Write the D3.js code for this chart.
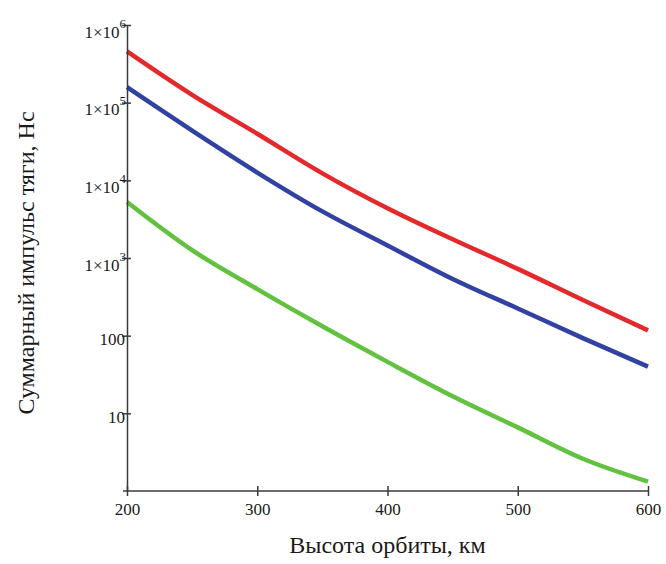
<!DOCTYPE html>
<html>
<head>
<meta charset="utf-8">
<script src="https://cdn.jsdelivr.net/npm/d3@7"></script>
<style>
    body { margin: 0; background: #fff; }
    svg { display: block; }
    text { font-family: "Liberation Serif", "DejaVu Serif", serif; fill: #1a1a1a; }
    .axis path, .axis line { stroke: #3a3a3a; stroke-width: 1.5; }
    .curve { fill: none; stroke-width: 4.5; stroke-linejoin: round; }
</style>
</head>
<body>
<svg width="666" height="564"></svg>
<script>
// orbit altitude, km
var altitudes = [200, 250, 300, 350, 400, 450, 500, 550, 600];
// total thrust impulse, N*s
var redValues = [457000, 126000, 39800, 12300, 4370, 1740, 724, 288, 117];
var blueValues = [158000, 43600, 12600, 3980, 1450, 537, 224, 93, 40];
var greenValues = [5250, 1260, 398, 132, 46, 16.6, 6.6, 2.6, 1.32];

var xTicks = [200, 300, 400, 500, 600];
var yTicks = [10, 100, 1e3, 1e4, 1e5, 1e6];
var xTitle = "Высота орбиты, км";
var yTitle = "Суммарный импульс тяги, Нс";

var series = [
    {name: "red", color: "#e3292b", values: redValues},
    {name: "blue", color: "#3142a3", values: blueValues},
    {name: "green", color: "#62c240", values: greenValues}
];

var margin = {top: 25, left: 127, bottom: 73, right: 18}; // px
var svg = d3.select("svg");
var width = +svg.attr("width") - margin.left - margin.right;
var height = +svg.attr("height") - margin.top - margin.bottom;

var x = d3.scaleLinear().domain([200, 600]).range([0, width]);
var y = d3.scaleLog().domain([1, 1e6]).range([height, 0]);

var main = svg.append("g")
    .attr("transform", "translate(" + margin.left + "," + margin.top + ")");

var line = d3.line()
    .x(function (d) { return x(d[0]); })
    .y(function (d) { return y(d[1]); })
    .curve(d3.curveMonotoneX);

series.forEach(function (s) {
    main.append("path")
        .datum(altitudes.map(function (a, i) { return [a, s.values[i]]; }))
        .attr("class", "curve")
        .attr("stroke", s.color)
        .attr("d", line);
});

// y axis: ticks cross the axis line
var yAxisGroup = main.append("g")
    .attr("class", "axis y")
    .call(d3.axisLeft(y).tickValues(yTicks).tickSizeOuter(0).tickFormat(""));
yAxisGroup.selectAll(".tick line").attr("x1", -5).attr("x2", 4);

yAxisGroup.selectAll(".tick").each(function (d) {
    var exp = Math.round(Math.log10(d));
    var t = d3.select(this).append("text")
        .attr("text-anchor", "end")
        .attr("font-size", 17)
        .attr("x", -1);
    if (exp >= 3) {
        t.attr("y", 12);
        t.append("tspan").text("1×10");
        t.append("tspan")
            .attr("font-size", 13)
            .attr("dy", -10)
            .text(exp);
    } else {
        t.attr("y", 9).attr("x", -2).text(d);
    }
});

var xAxisGroup = main.append("g")
    .attr("class", "axis x")
    .attr("transform", "translate(0," + height + ")")
    .call(d3.axisBottom(x).tickValues(xTicks).tickSizeOuter(0));
xAxisGroup.selectAll(".tick line").attr("y1", -5).attr("y2", 5);
xAxisGroup.select(".domain").attr("d", "M-4,0H" + width);
xAxisGroup.selectAll(".tick text")
    .attr("font-size", 17)
    .attr("font-family", "Liberation Serif")
    .attr("fill", "#1a1a1a")
    .attr("y", 12);

svg.append("text")
    .attr("x", margin.left + width / 2)
    .attr("y", 553)
    .attr("text-anchor", "middle")
    .attr("font-size", 24)
    .text(xTitle);

svg.append("text")
    .attr("transform", "translate(34,263) rotate(-90)")
    .attr("text-anchor", "middle")
    .attr("font-size", 24)
    .text(yTitle);
</script>
</body>
</html>
